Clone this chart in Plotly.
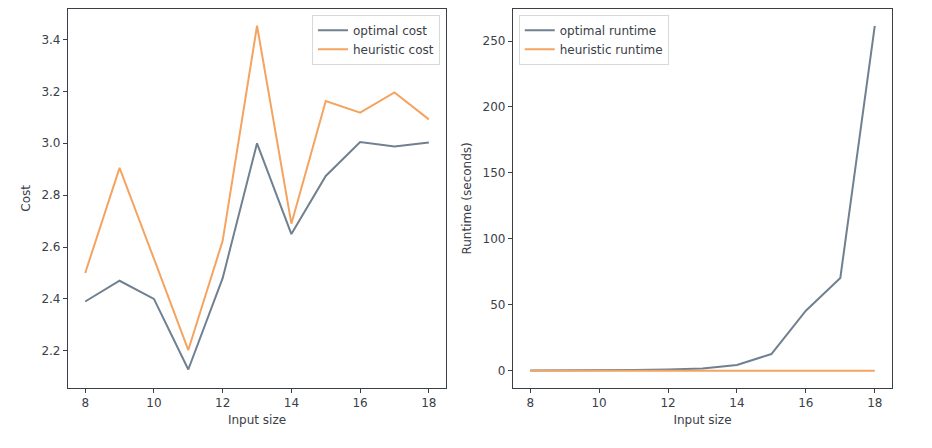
import plotly.graph_objects as go
from plotly.subplots import make_subplots

sizes = [8, 9, 10, 11, 12, 13, 14, 15, 16, 17, 18]
optimal_cost = [2.39, 2.47, 2.40, 2.128, 2.48, 3.0, 2.65, 2.874, 3.005, 2.988, 3.003]
heuristic_cost = [2.50, 2.905, 2.555, 2.203, 2.624, 3.453, 2.69, 3.163, 3.118, 3.196, 3.092]
optimal_runtime = [0.05, 0.1, 0.2, 0.4, 0.8, 1.6, 4.3, 12.6, 45.5, 70.3, 261.5]
heuristic_runtime = [0.01, 0.01, 0.01, 0.01, 0.01, 0.01, 0.01, 0.01, 0.01, 0.01, 0.01]

gray = '#708090'
orange = '#F4A460'
ink = '#3a4048'

fig = make_subplots(rows=1, cols=2)
fig.add_trace(go.Scatter(x=sizes, y=optimal_cost, mode='lines', name='optimal cost',
                         line=dict(color=gray, width=2), legend='legend'), row=1, col=1)
fig.add_trace(go.Scatter(x=sizes, y=heuristic_cost, mode='lines', name='heuristic cost',
                         line=dict(color=orange, width=2), legend='legend'), row=1, col=1)
fig.add_trace(go.Scatter(x=sizes, y=optimal_runtime, mode='lines', name='optimal runtime',
                         line=dict(color=gray, width=2), legend='legend2'), row=1, col=2)
fig.add_trace(go.Scatter(x=sizes, y=heuristic_runtime, mode='lines', name='heuristic runtime',
                         line=dict(color=orange, width=2), legend='legend2'), row=1, col=2)

axis_style = dict(showgrid=False, zeroline=False, showline=True, mirror=True,
                  linecolor=ink, linewidth=1.2, ticks='outside', ticklen=4,
                  tickcolor=ink, tickfont=dict(size=12, color=ink))
fig.update_xaxes(**axis_style, range=[7.5, 18.5], tickvals=[8, 10, 12, 14, 16, 18],
                 title=dict(text='Input size', font=dict(size=12, color=ink), standoff=6))
# page body has an 8px margin, so domains are shifted to land where the reference has them
fig.update_xaxes(domain=[0.0644, 0.47], row=1, col=1)
fig.update_xaxes(domain=[0.5418, 0.9485], row=1, col=2)
fig.update_yaxes(**axis_style)
fig.update_yaxes(domain=[0.152, 0.998])
fig.update_yaxes(range=[2.057, 3.518], tickvals=[2.2, 2.4, 2.6, 2.8, 3.0, 3.2, 3.4],
                 ticktext=['2.2', '2.4', '2.6', '2.8', '3.0', '3.2', '3.4'],
                 title=dict(text='Cost', font=dict(size=12, color=ink), standoff=8),
                 row=1, col=1)
fig.update_yaxes(range=[-13.1, 274.4], tickvals=[0, 50, 100, 150, 200, 250],
                 title=dict(text='Runtime (seconds)', font=dict(size=12, color=ink), standoff=8),
                 row=1, col=2)

legend_style = dict(bgcolor='rgba(255,255,255,0.8)', bordercolor='#d8d8d8', borderwidth=1,
                    font=dict(size=12, color=ink), yanchor='top', tracegroupgap=0)
fig.update_layout(
    width=932, height=448,
    margin=dict(l=0, r=0, t=0, b=0),
    paper_bgcolor='white', plot_bgcolor='white',
    font=dict(family='DejaVu Sans', color=ink),
    legend=dict(**legend_style, x=0.4635, xanchor='right', y=0.985),
    legend2=dict(**legend_style, x=0.548, xanchor='left', y=0.985),
)

fig.write_html("out.html")
